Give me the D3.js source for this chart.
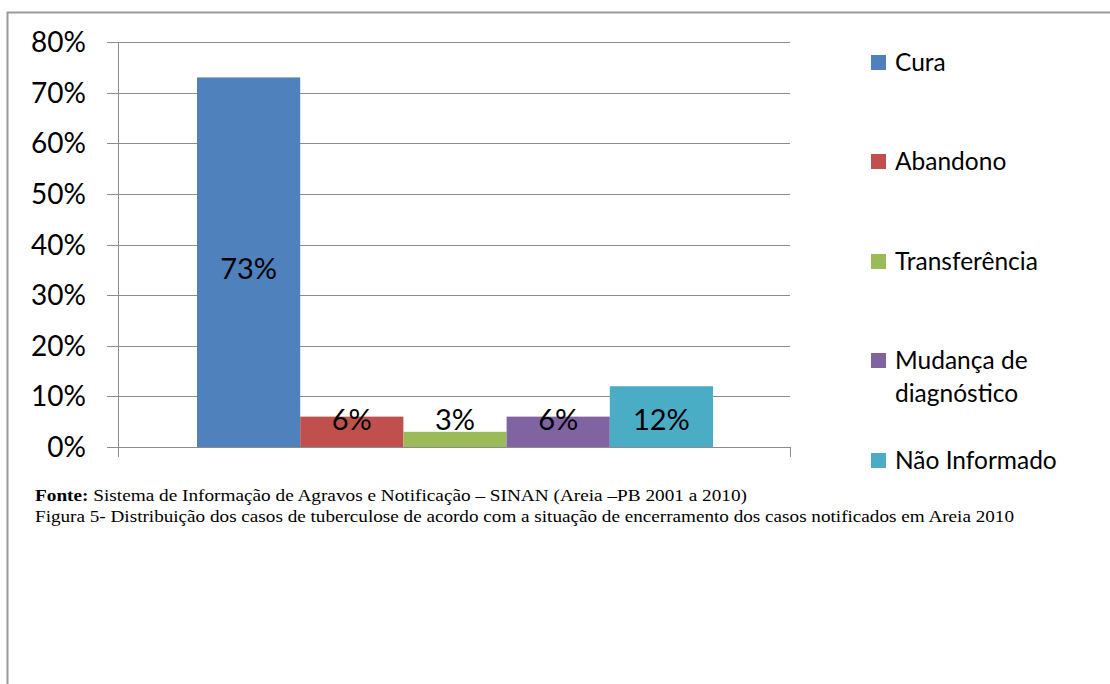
<!DOCTYPE html>
<html>
<head>
<meta charset="utf-8">
<script src="https://cdn.jsdelivr.net/npm/d3@7"></script>
<style>
  body { margin: 0; background: #fff; }
  svg { display: block; }
</style>
</head>
<body>
<script>
// valores (situação de encerramento)
var categorias = ["Cura", "Abandono", "Transferência", "Mudança de diagnóstico", "Não Informado"];
var valores = [73, 6, 3, 6, 12];
var rotulos = ["73%", "6%", "3%", "6%", "12%"];
var cores = ["#4F81BD", "#C0504D", "#9BBB59", "#8064A2", "#4BACC6"];
var ticks = [0, 10, 20, 30, 40, 50, 60, 70, 80];
var legendaLinhas = [["Cura"], ["Abandono"], ["Transferência"], ["Mudança de", "diagnóstico"], ["Não Informado"]];

var w = 1110;
var h = 684;
var fonte = "Lato, 'Open Sans', sans-serif";

var svg = d3.select("body")
    .append("svg")
    .attr("width", w)
    .attr("height", h);

// moldura do gráfico
svg.append("path")
    .attr("d", "M7.5,684 V12.5 H1110")
    .attr("fill", "none")
    .attr("stroke", "#9a9a9a")
    .attr("stroke-width", 2);

var plotLeft = 118, plotRight = 790, plotTop = 42, plotBottom = 447;

var yScale = d3.scaleLinear()
    .domain([0, 80])
    .range([plotBottom, plotTop]);

var xScale = d3.scaleBand()
    .domain(categorias)
    .range([197, 713])
    .padding(0);

// linhas de grade
svg.selectAll("line.grade")
    .data(ticks)
    .enter()
    .append("line")
    .attr("class", "grade")
    .attr("x1", plotLeft - 11)
    .attr("x2", plotRight)
    .attr("y1", function(d) { return Math.round(yScale(d)) + 0.5; })
    .attr("y2", function(d) { return Math.round(yScale(d)) + 0.5; })
    .attr("stroke", "#8c8c8c")
    .attr("stroke-width", 1);

// eixo vertical
svg.append("line")
    .attr("x1", plotLeft + 0.5).attr("x2", plotLeft + 0.5)
    .attr("y1", plotTop).attr("y2", plotBottom + 10)
    .attr("stroke", "#8c8c8c");

// marca final do eixo horizontal
svg.append("line")
    .attr("x1", plotRight + 0.5).attr("x2", plotRight + 0.5)
    .attr("y1", plotBottom).attr("y2", plotBottom + 10)
    .attr("stroke", "#8c8c8c");

// rótulos do eixo y
svg.selectAll("text.tick")
    .data(ticks)
    .enter()
    .append("text")
    .attr("class", "tick")
    .attr("x", 86)
    .attr("y", function(d) { return yScale(d); })
    .attr("dy", "0.36em")
    .attr("text-anchor", "end")
    .attr("font-family", fonte)
    .attr("font-size", 28)
    .attr("fill", "#000")
    .text(function(d) { return d + "%"; });

// barras
svg.selectAll("rect.barra")
    .data(valores)
    .enter()
    .append("rect")
    .attr("class", "barra")
    .attr("x", function(d, i) { return xScale(categorias[i]); })
    .attr("y", function(d) { return yScale(d); })
    .attr("width", xScale.bandwidth())
    .attr("height", function(d) { return plotBottom - yScale(d); })
    .attr("fill", function(d, i) { return cores[i]; });

// rótulos de dados
svg.selectAll("text.rotulo")
    .data(valores)
    .enter()
    .append("text")
    .attr("class", "rotulo")
    .attr("x", function(d, i) { return xScale(categorias[i]) + xScale.bandwidth() / 2; })
    .attr("y", function(d) {
        var centro = (yScale(d) + plotBottom) / 2 + 6;
        return Math.min(centro, plotBottom - 27);
    })
    .attr("dy", "0.36em")
    .attr("text-anchor", "middle")
    .attr("font-family", fonte)
    .attr("font-size", 29)
    .attr("fill", "#000")
    .text(function(d, i) { return rotulos[i]; });

// legenda
var legY = [62, 161, 261, 360, 460];
var leg = svg.selectAll("g.legenda")
    .data(categorias)
    .enter()
    .append("g")
    .attr("class", "legenda")
    .attr("transform", function(d, i) { return "translate(871," + legY[i] + ")"; });

leg.append("rect")
    .attr("x", 0)
    .attr("y", -7)
    .attr("width", 15)
    .attr("height", 15)
    .attr("fill", function(d, i) { return cores[i]; });

leg.each(function(d, i) {
    var g = d3.select(this);
    legendaLinhas[i].forEach(function(linha, j) {
        g.append("text")
            .attr("x", 24)
            .attr("y", j * 33)
            .attr("dy", "0.36em")
            .attr("font-family", fonte)
            .attr("font-size", 24.5)
            .attr("fill", "#000")
            .text(linha);
    });
});

// fonte e legenda da figura
var serif = "'Liberation Serif', 'Times New Roman', serif";
var cap1 = svg.append("text")
    .attr("x", 35)
    .attr("y", 501)
    .attr("font-family", serif)
    .attr("font-size", 16.5)
    .attr("fill", "#000")
    .attr("textLength", 712)
    .attr("lengthAdjust", "spacingAndGlyphs");
cap1.append("tspan").attr("font-weight", "bold").text("Fonte:");
cap1.append("tspan").text(" Sistema de Informação de Agravos e Notificação – SINAN  (Areia  –PB 2001 a 2010)");

svg.append("text")
    .attr("x", 35)
    .attr("y", 522)
    .attr("font-family", serif)
    .attr("font-size", 16.5)
    .attr("fill", "#000")
    .attr("textLength", 979)
    .attr("lengthAdjust", "spacingAndGlyphs")
    .text("Figura 5- Distribuição dos casos de tuberculose de acordo com a situação de encerramento dos casos notificados em Areia 2010");
</script>
</body>
</html>
